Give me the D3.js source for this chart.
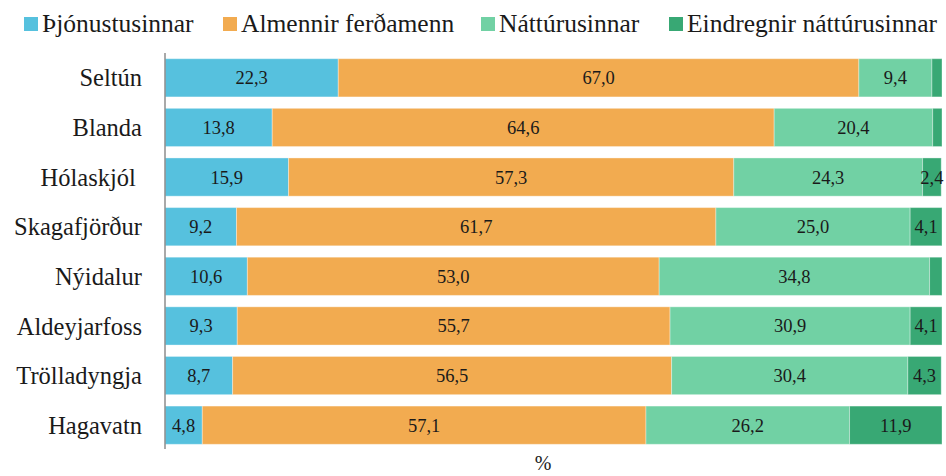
<!DOCTYPE html>
<html>
<head>
<meta charset="utf-8">
<script src="https://cdn.jsdelivr.net/npm/d3@7"></script>
<style>
  body { margin: 0; background: #fff; }
</style>
</head>
<body>
<svg id="chart" width="946" height="476"></svg>
<script>
// flokkar og gildi (%)
var places = ["Seltún", "Blanda", "Hólaskjól ", "Skagafjörður", "Nýidalur", "Aldeyjarfoss", "Trölladyngja", "Hagavatn"];
var seriesNames = ["Þjónustusinnar", "Almennir ferðamenn", "Náttúrusinnar", "Eindregnir náttúrusinnar"];
var thjonustu = [22.3, 13.8, 15.9, 9.2, 10.6, 9.3, 8.7, 4.8];
var almennir = [67.0, 64.6, 57.3, 61.7, 53.0, 55.7, 56.5, 57.1];
var natturu = [9.4, 20.4, 24.3, 25.0, 34.8, 30.9, 30.4, 26.2];
var eindregnir = [1.3, 1.2, 2.4, 4.1, 1.6, 4.1, 4.3, 11.9];
var colors = ["#56c1de", "#f2ab50", "#71d1a4", "#38a874"];

var serifFont = "'Liberation Serif', 'Times New Roman', Tinos, 'DejaVu Serif', serif";

var svg = d3.select("#chart")
    .attr("font-family", serifFont);
var plotLeft = 165, plotRight = 942, plotTop = 53, plotBottom = 450;

var x = d3.scaleLinear().domain([0, 100]).range([plotLeft, plotRight]);
var y = d3.scaleBand().domain(places).range([plotTop, plotBottom]).paddingInner(0.23).paddingOuter(0.115);

var rows = places.map(function(p, i) {
    return { place: p, vals: [thjonustu[i], almennir[i], natturu[i], eindregnir[i]] };
});

// stafla
var segs = [];
rows.forEach(function(r) {
    var acc = 0;
    r.vals.forEach(function(v, k) {
        segs.push({ place: r.place, k: k, x0: acc, x1: acc + v, v: v });
        acc += v;
    });
});

svg.selectAll("rect.seg")
    .data(segs)
    .enter()
    .append("rect")
    .attr("class", "seg")
    .attr("x", d => x(d.x0))
    .attr("y", d => y(d.place))
    .attr("width", d => x(d.x1) - x(d.x0))
    .attr("height", y.bandwidth())
    .attr("fill", d => colors[d.k])
    .attr("stroke", "#ffffff")
    .attr("stroke-opacity", 0.35)
    .attr("stroke-width", 1);

svg.selectAll("text.val")
    .data(segs.filter(d => d.v >= 2))
    .enter()
    .append("text")
    .attr("class", "val")
    .attr("x", d => (x(d.x0) + x(d.x1)) / 2)
    .attr("y", d => y(d.place) + y.bandwidth() / 2)
    .attr("dy", "0.35em")
    .attr("text-anchor", "middle")
    .attr("fill", "#1a1a1a")
    .style("font-size", "18.5px")
    .text(d => d3.format(".1f")(d.v).replace(".", ","));

// ás
svg.append("line")
    .attr("x1", plotLeft).attr("x2", plotLeft)
    .attr("y1", plotTop).attr("y2", 449)
    .attr("stroke", "#8c8c8c")
    .attr("stroke-width", 1.5);

svg.selectAll("text.cat")
    .data(places)
    .enter()
    .append("text")
    .attr("class", "cat")
    .attr("x", 142)
    .attr("y", d => y(d) + y.bandwidth() / 2)
    .attr("dy", "0.35em")
    .attr("text-anchor", "end")
    .attr("fill", "#1a1a1a")
    .style("font-size", "24.5px")
    .style("white-space", "pre")
    .text(d => d);

svg.append("text")
    .attr("x", 543).attr("y", 470)
    .attr("text-anchor", "middle")
    .attr("fill", "#1a1a1a")
    .style("font-size", "20px")
    .text("%");

// skýringar
var legendX = [24, 223, 481, 669];
var leg = svg.selectAll("g.leg")
    .data(seriesNames)
    .enter()
    .append("g")
    .attr("class", "leg")
    .attr("transform", (d, i) => `translate(${legendX[i]}, 0)`);
leg.append("rect")
    .attr("x", 0).attr("y", 17)
    .attr("width", 14).attr("height", 14)
    .attr("fill", (d, i) => colors[i]);
leg.append("text")
    .attr("x", 18).attr("y", 32)
    .attr("fill", "#1a1a1a")
    .style("font-size", "25.5px")
    .text(d => d);
</script>
</body>
</html>
